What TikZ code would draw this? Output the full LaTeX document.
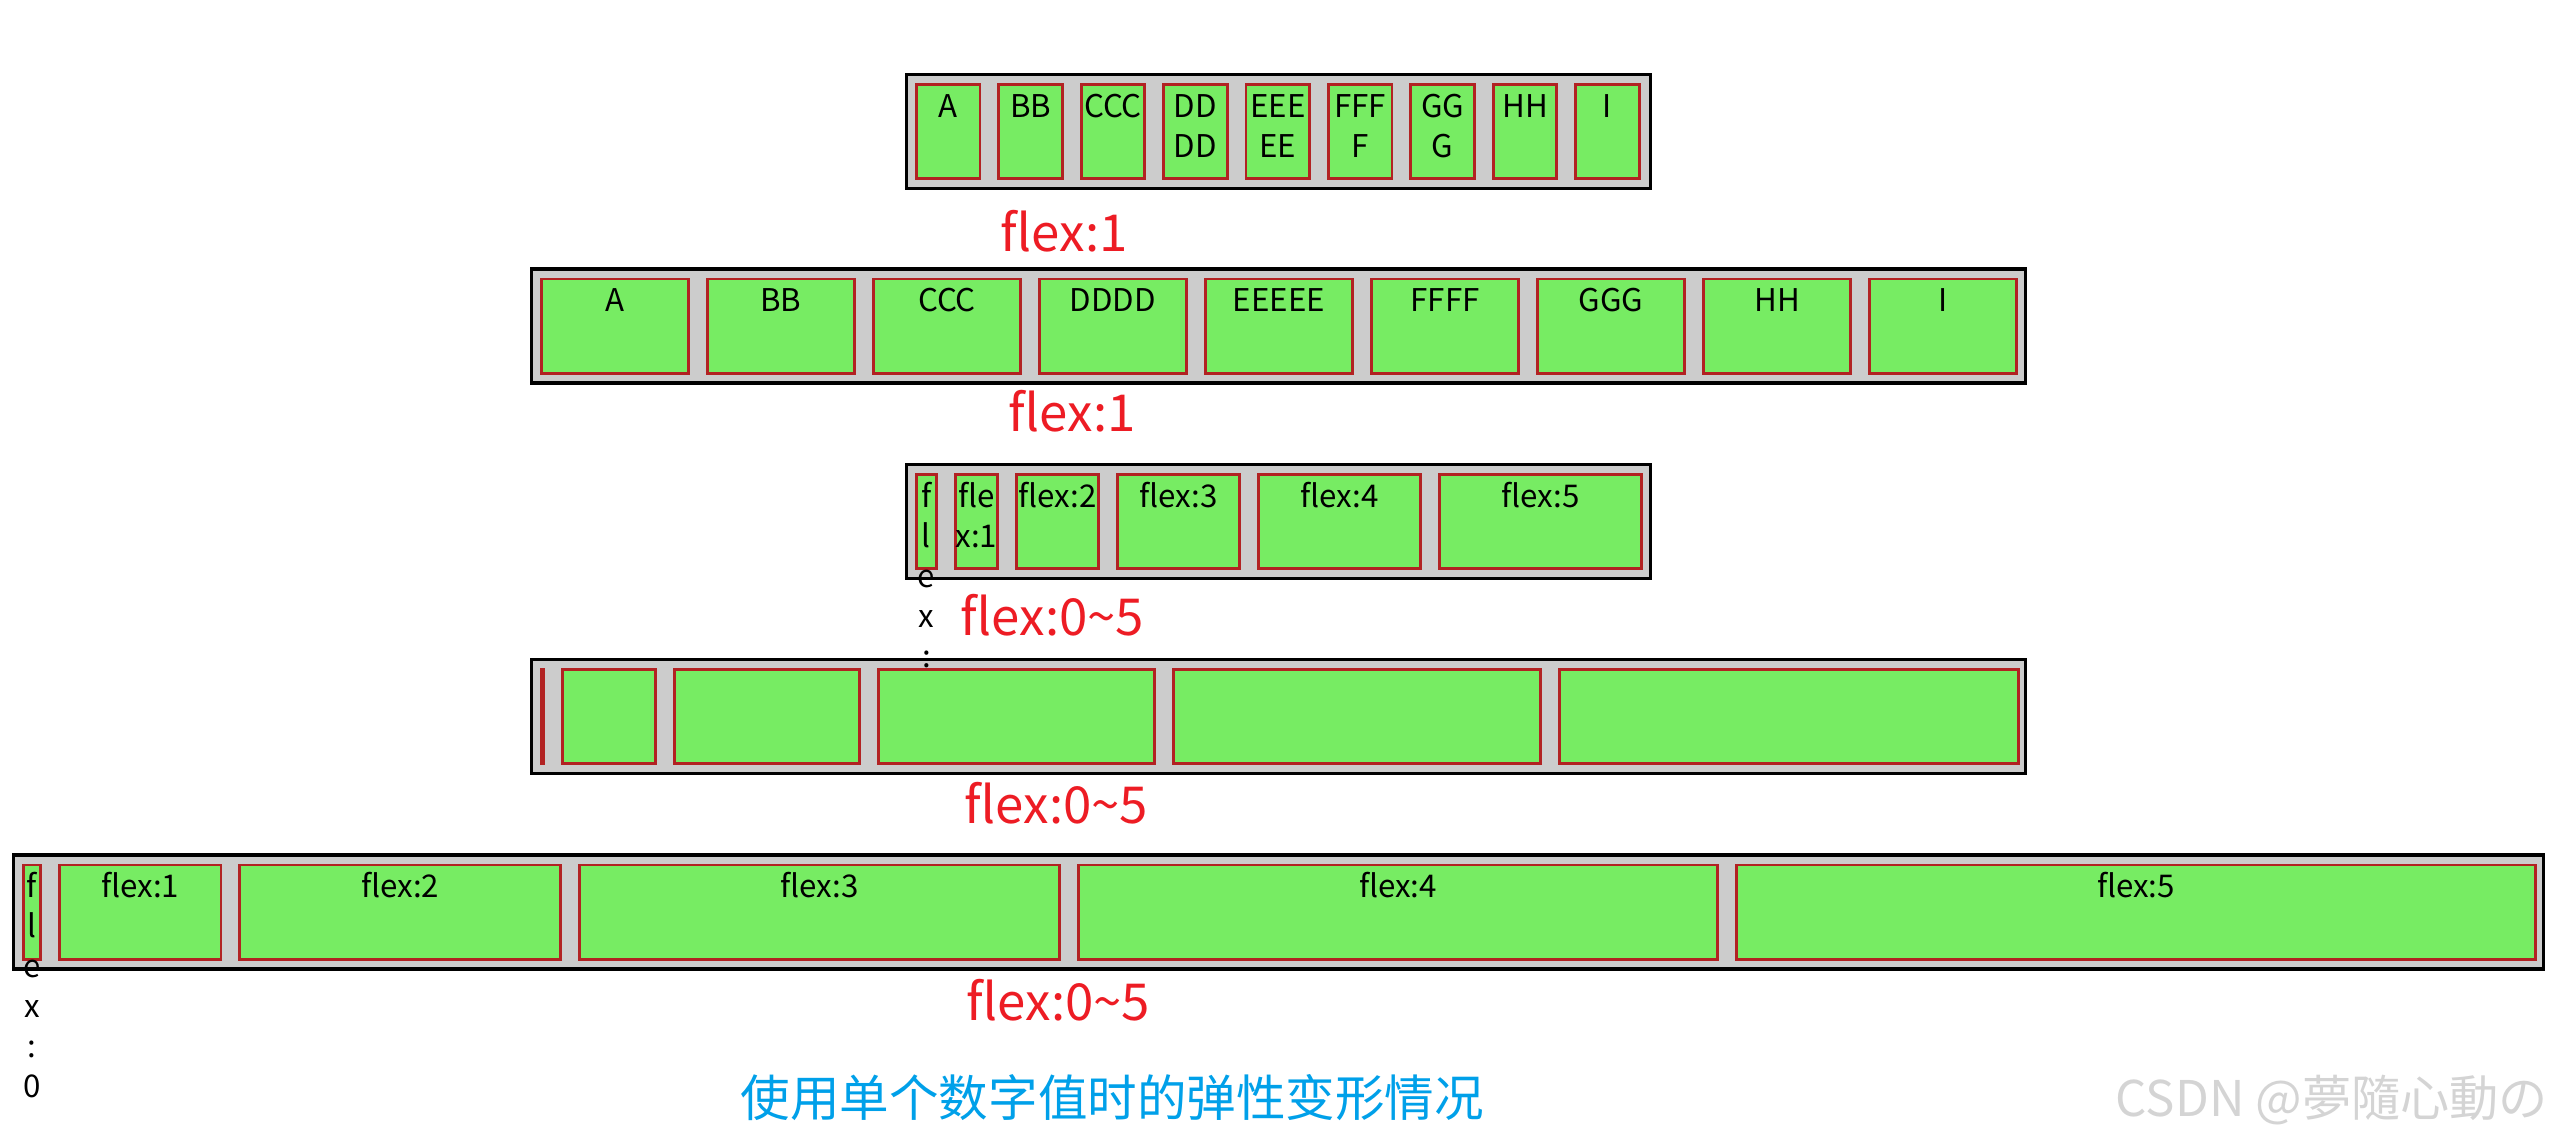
\documentclass[tikz,border=0pt]{standalone}
\usepackage{fontspec}
\setmainfont{Noto Sans CJK SC}
\usepackage{xcolor}
\usepackage{tikz}
\usetikzlibrary{positioning}
\definecolor{boxgray}{RGB}{204,204,204}
\definecolor{itemgreen}{RGB}{119,236,99}
\definecolor{itemred}{RGB}{178,34,34}
\definecolor{tagred}{RGB}{237,28,36}
\definecolor{titleblue}{RGB}{0,160,233}
\definecolor{markgray}{RGB}{212,212,212}
% lines hang down from the first baseline
\newcommand{\itemlines}[1]{\begin{tabular}[t]{@{}c@{}}#1\end{tabular}}
\tikzset{
  flexbox/.style={rectangle, draw=black, fill=boxgray, line width=0.9pt,
    inner sep=0pt, minimum height=1.14cm},
  item/.style={rectangle, draw=itemred, fill=itemgreen, line width=0.8pt,
    inner sep=0pt, text height=0.326cm, text depth=0.616cm,
    font=\fontsize{8.9pt}{11.4pt}\selectfont},
  tag/.style={font=\fontsize{14.5pt}{16pt}\selectfont, color=tagred,
    inner sep=0pt, anchor=base west}
}

\begin{document}
\begin{tikzpicture}
  \useasboundingbox (0,0) rectangle (25.49,-11.42);

  % Containers
  \node[flexbox, minimum width=7.44cm] (box1) at (12.785,-1.315) {};
  \node[flexbox, minimum width=14.94cm] (box2) at (12.785,-3.26) {};
  \node[flexbox, minimum width=7.44cm] (box3) at (12.785,-5.215) {};
  \node[flexbox, minimum width=14.94cm] (box4) at (12.785,-7.165) {};
  \node[flexbox, minimum width=25.30cm] (box5) at (12.785,-9.12) {};

  % Row 1
  \node[item, minimum width=0.636cm, right=0.1cm of box1.west] (i11) {A};
  \node[item, minimum width=0.636cm, right=0.16cm of i11] (i12) {BB};
  \node[item, minimum width=0.636cm, right=0.16cm of i12] (i13) {CCC};
  \node[item, minimum width=0.636cm, right=0.16cm of i13] (i14) {\itemlines{DD\\DD}};
  \node[item, minimum width=0.636cm, right=0.16cm of i14] (i15) {\itemlines{EEE\\EE}};
  \node[item, minimum width=0.636cm, right=0.16cm of i15] (i16) {\itemlines{FFF\\F}};
  \node[item, minimum width=0.636cm, right=0.16cm of i16] (i17) {\itemlines{GG\\G}};
  \node[item, minimum width=0.636cm, right=0.16cm of i17] (i18) {HH};
  \node[item, minimum width=0.636cm, right=0.16cm of i18] (i19) {I};

  % Row 2
  \node[item, minimum width=1.472cm, right=0.1cm of box2.west] (i21) {A};
  \node[item, minimum width=1.472cm, right=0.16cm of i21] (i22) {BB};
  \node[item, minimum width=1.472cm, right=0.16cm of i22] (i23) {CCC};
  \node[item, minimum width=1.472cm, right=0.16cm of i23] (i24) {DDDD};
  \node[item, minimum width=1.472cm, right=0.16cm of i24] (i25) {EEEEE};
  \node[item, minimum width=1.472cm, right=0.16cm of i25] (i26) {FFFF};
  \node[item, minimum width=1.472cm, right=0.16cm of i26] (i27) {GGG};
  \node[item, minimum width=1.472cm, right=0.16cm of i27] (i28) {HH};
  \node[item, minimum width=1.472cm, right=0.16cm of i28] (i29) {I};

  % Row 3
  \node[item, minimum width=0.202cm, right=0.1cm of box3.west] (i30) {\itemlines{f\\l\\e\\x\\:\\0}};
  \node[item, minimum width=0.422cm, right=0.16cm of i30] (i31) {\itemlines{fle\\x:1}};
  \node[item, minimum width=0.822cm, right=0.16cm of i31] (i32) {flex:2};
  \node[item, minimum width=1.222cm, right=0.16cm of i32] (i33) {flex:3};
  \node[item, minimum width=1.622cm, right=0.16cm of i33] (i34) {flex:4};
  \node[item, minimum width=2.022cm, right=0.16cm of i34] (i35) {flex:5};

  % Row 4
  \node[item, minimum width=0.022cm, right=0.1cm of box4.west] (i40) {};
  \node[item, minimum width=0.935cm, right=0.16cm of i40] (i41) {};
  \node[item, minimum width=1.848cm, right=0.16cm of i41] (i42) {};
  \node[item, minimum width=2.761cm, right=0.16cm of i42] (i43) {};
  \node[item, minimum width=3.674cm, right=0.16cm of i43] (i44) {};
  \node[item, minimum width=4.587cm, right=0.16cm of i44] (i45) {};

  % Row 5
  \node[item, minimum width=0.172cm, right=0.1cm of box5.west] (i50) {\itemlines{f\\l\\e\\x\\:\\0}};
  \node[item, minimum width=1.615cm, right=0.16cm of i50] (i51) {flex:1};
  \node[item, minimum width=3.208cm, right=0.16cm of i51] (i52) {flex:2};
  \node[item, minimum width=4.801cm, right=0.16cm of i52] (i53) {flex:3};
  \node[item, minimum width=6.394cm, right=0.16cm of i53] (i54) {flex:4};
  \node[item, minimum width=7.987cm, right=0.16cm of i54] (i55) {flex:5};

  % Labels
  \node[tag] (tag1) at (10.00,-2.51) {flex:1};
  \node[tag] (tag2) at (10.08,-4.31) {flex:1};
  \node[tag] (tag3) at (9.60,-6.35) {flex:0\textasciitilde5};
  \node[tag] (tag4) at (9.64,-8.23) {flex:0\textasciitilde5};
  \node[tag] (tag5) at (9.66,-10.20) {flex:0\textasciitilde5};

  \node[anchor=base west, inner sep=0pt, color=titleblue,
    font=\fontsize{14.1pt}{16pt}\selectfont] (title) at (7.40,-11.16) {使用单个数字值时的弹性变形情况};
  \node[anchor=base west, inner sep=0pt, color=markgray,
    font=\fontsize{14pt}{16pt}\selectfont] (mark) at (21.15,-11.16) {CSDN @夢隨心動の};
\end{tikzpicture}
\end{document}
